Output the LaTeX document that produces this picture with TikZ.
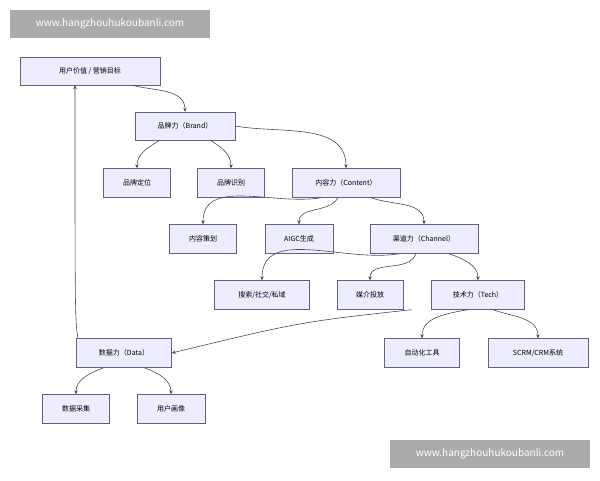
\documentclass[tikz,border=0pt]{standalone}
\usepackage{fontspec}
\setmainfont{Noto Sans CJK SC}
\usetikzlibrary{arrows.meta}
\begin{document}
\begin{tikzpicture}[x=1pt,y=-1pt,
 box/.style={draw=black!35!blue!25!gray,fill=blue!7,minimum height=29pt,font=\fontsize{7}{8}\selectfont,inner sep=0pt},
 e/.style={draw=black!70,line width=0.6pt,-{Stealth[length=4pt,width=3.5pt]}},
 wm/.style={fill=black!33,text=white,font=\fontsize{10}{12}\selectfont,minimum width=200pt,minimum height=28pt,inner sep=0pt}]
\useasboundingbox (0,0) rectangle (600,480);
\fill[white] (0,0) rectangle (600,480);
\node[wm] (w1) at (110,24) {www.hangzhouhukoubanli.com};
\node[wm] (w2) at (490,454) {www.hangzhouhukoubanli.com};
\node[box,minimum width=140pt,minimum height=28pt] (top) at (90,71) {用户价值 / 营销目标};
\node[box,minimum width=100pt,minimum height=28pt] (brand) at (185,126) {品牌力（Brand）};
\node[box,minimum width=67pt] (dw) at (137,183) {品牌定位};
\node[box,minimum width=67pt] (sb) at (231,183) {品牌识别};
\node[box,minimum width=108pt] (content) at (346,183) {内容力（Content）};
\node[box,minimum width=67pt] (ch) at (203,239) {内容策划};
\node[box,minimum width=68pt] (aigc) at (299,239) {AIGC生成};
\node[box,minimum width=108pt] (channel) at (424,239) {渠道力（Channel）};
\node[box,minimum width=95pt] (ss) at (262,295) {搜索/社交/私域};
\node[box,minimum width=66pt] (mj) at (370,295) {媒介投放};
\node[box,minimum width=93pt] (tech) at (478,295) {技术力（Tech）};
\node[box,minimum width=95pt] (data) at (124,353) {数据力（Data）};
\node[box,minimum width=75pt] (auto) at (422,353) {自动化工具};
\node[box,minimum width=100pt] (scrm) at (538,353) {SCRM/CRM系统};
\node[box,minimum width=67pt] (cj) at (76,409) {数据采集};
\node[box,minimum width=68pt] (hx) at (171,409) {用户画像};
\draw[e] (top.south east) ++(-28,0) coordinate (a) (a) to[out=-15,in=90] (brand.north);
\draw[e] ([xshift=-25pt]brand.south) to[out=-150,in=90] (dw.north);
\draw[e] ([xshift=25pt]brand.south) to[out=-30,in=90] (sb.north);
\draw[e] (brand.east) to[out=-10,in=90] (content.north);
\draw[e] ([xshift=-25pt]content.south) to[out=-170,in=90] (ch.north);
\draw[e] ([xshift=-8pt]content.south) to[out=-120,in=90] (aigc.north);
\draw[e] ([xshift=25pt]content.south) to[out=-20,in=90] (channel.north);
\draw[e] ([xshift=-25pt]channel.south) to[out=-170,in=90] (ss.north);
\draw[e] ([xshift=-8pt]channel.south) to[out=-110,in=90] (mj.north);
\draw[e] ([xshift=25pt]channel.south) to[out=-20,in=90] (tech.north);
\draw[e] ([xshift=-10pt]tech.south) to[out=-170,in=90] (auto.north);
\draw[e] ([xshift=15pt]tech.south) to[out=-20,in=90] (scrm.north);
\draw[e] ([xshift=-20pt]tech.south west) .. controls (300,322) .. (data.east);
\draw[e] ([xshift=-46pt]data.north) .. controls (75,320) .. ([xshift=-15pt]top.south);
\draw[e] ([xshift=-20pt]data.south) to[out=-160,in=90] (cj.north);
\draw[e] ([xshift=20pt]data.south) to[out=-20,in=90] (hx.north);
\end{tikzpicture}
\end{document}
